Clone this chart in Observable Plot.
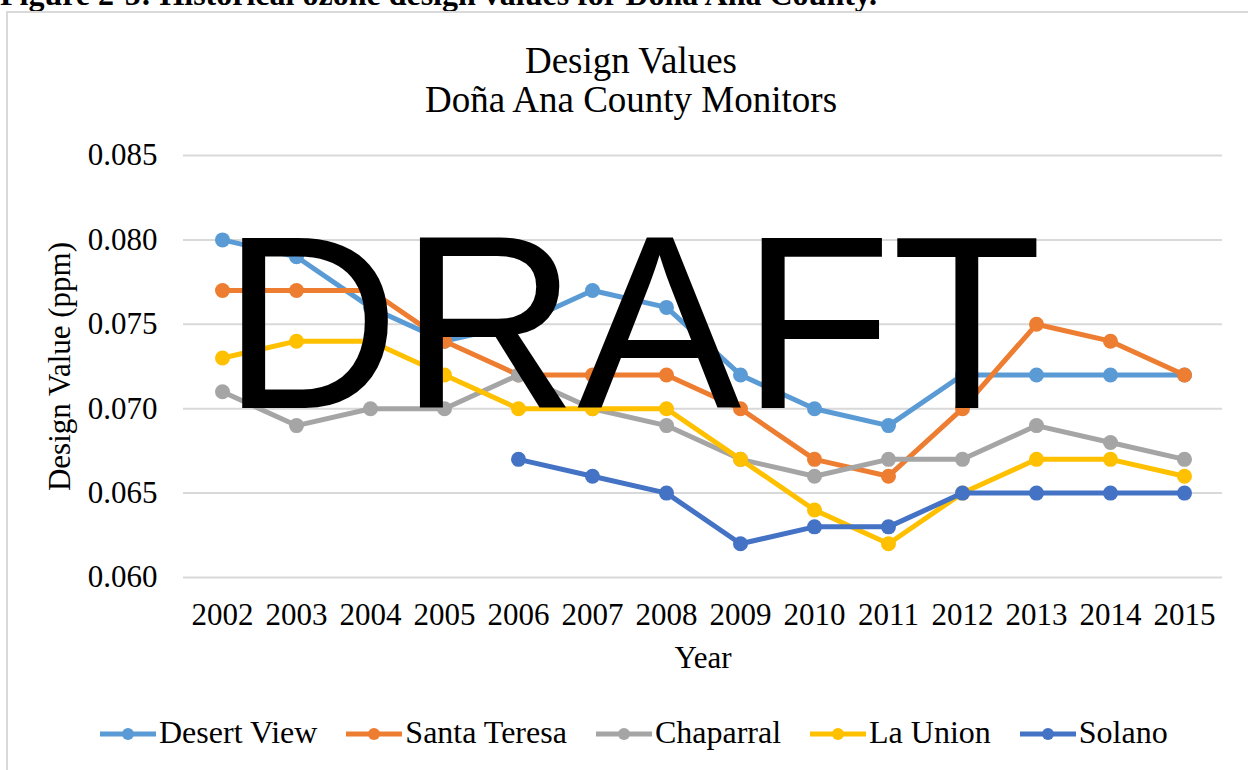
<!DOCTYPE html>
<html>
<head>
<meta charset="utf-8">
<script src="https://cdn.jsdelivr.net/npm/d3@7"></script>
<script src="https://cdn.jsdelivr.net/npm/@observablehq/plot@0.6"></script>
<style>
  html, body { margin: 0; padding: 0; background: #fff; }
  body { width: 1248px; height: 770px; overflow: hidden; position: relative; font-family: "Liberation Serif", "Times New Roman", serif; }
  #caption { position: absolute; left: 0; top: -22px; font-weight: bold; font-size: 32px; line-height: 32px; white-space: nowrap; color: #000; }
  #frame { position: absolute; left: 6px; top: 11px; width: 1270px; height: 800px; border: 2px solid #d9d9d9; box-sizing: border-box; }
  #title { position: absolute; left: 0; width: 1262px; top: 41px; text-align: center; font-size: 37px; line-height: 39px; color: #000; }
  #chart { position: absolute; left: 0; top: 120px; }
  #legend { position: absolute; left: 100px; top: 716px; display: flex; gap: 29px; white-space: nowrap; font-size: 32px; line-height: 32px; color: #000; }
  .item { display: flex; align-items: flex-start; }
  .item svg { display: block; margin-right: 3px; }
  #draft { position: absolute; left: 222px; top: 200px; font-family: "Liberation Sans", Arial, sans-serif; font-size: 246px; line-height: 246px; color: #000; white-space: nowrap; pointer-events: none; }
</style>
</head>
<body>
<div id="caption">Figure 2-5: Historical ozone design values for Doña Ana County.</div>
<div id="frame"></div>
<div id="title">Design Values<br>Doña Ana County Monitors</div>
<div id="chart"></div>
<div id="legend"></div>
<div id="draft">DRAFT</div>
<script>
const years = [2002, 2003, 2004, 2005, 2006, 2007, 2008, 2009, 2010, 2011, 2012, 2013, 2014, 2015];
const seriesNames = ["Desert View", "Santa Teresa", "Chaparral", "La Union", "Solano"];
const desertView  = [0.080, 0.079, 0.076, 0.074, 0.075, 0.077, 0.076, 0.072, 0.070, 0.069, 0.072, 0.072, 0.072, 0.072];
const santaTeresa = [0.077, 0.077, 0.077, 0.074, 0.072, 0.072, 0.072, 0.070, 0.067, 0.066, 0.070, 0.075, 0.074, 0.072];
const chaparral   = [0.071, 0.069, 0.070, 0.070, 0.072, 0.070, 0.069, 0.067, 0.066, 0.067, 0.067, 0.069, 0.068, 0.067];
const laUnion     = [0.073, 0.074, 0.074, 0.072, 0.070, 0.070, 0.070, 0.067, 0.064, 0.062, 0.065, 0.067, 0.067, 0.066];
const solano      = [null, null, null, null, 0.067, 0.066, 0.065, 0.062, 0.063, 0.063, 0.065, 0.065, 0.065, 0.065];
const yTicks = [0.060, 0.065, 0.070, 0.075, 0.080, 0.085];
const colors = ["#5B9BD5", "#ED7D31", "#A5A5A5", "#FFC000", "#4472C4"];

const seriesValues = [desertView, santaTeresa, chaparral, laUnion, solano];
const rowsBySeries = seriesValues.map((vals, i) =>
  years.map((year, j) => ({year, value: vals[j], series: seriesNames[i]})).filter(d => d.value != null)
);

const seriesMarks = [];
rowsBySeries.forEach((rows, i) => {
  seriesMarks.push(Plot.line(rows, {x: "year", y: "value", stroke: colors[i], strokeWidth: 5, strokeLinejoin: "round", strokeLinecap: "round"}));
  seriesMarks.push(Plot.dot(rows, {x: "year", y: "value", fill: colors[i], r: 7.5, stroke: "none"}));
});

const chart = Plot.plot({
  width: 1248,
  height: 560,
  marginTop: 35,
  marginBottom: 103,
  marginLeft: 183,
  marginRight: 26,
  style: {fontFamily: '"Liberation Serif", "Times New Roman", serif', fontSize: "31px", color: "#000", background: "transparent", overflow: "visible"},
  x: {type: "point", domain: years, padding: 0.5},
  y: {domain: [0.060, 0.085]},
  marks: [
    Plot.gridY(yTicks, {stroke: "#d9d9d9", strokeOpacity: 1, strokeWidth: 2}),
    Plot.axisY(yTicks, {tickSize: 0, tickPadding: 26, tickFormat: d => d.toFixed(3), label: null, fontSize: 31}),
    Plot.axisX(years, {tickSize: 0, tickPadding: 25, tickFormat: d => String(d), label: null, fontSize: 31}),
    ...seriesMarks,
    Plot.text(["Year"], {text: d => d, frameAnchor: "bottom", dy: 81, lineAnchor: "middle", textAnchor: "middle", fontSize: 31, fill: "#000"}),
    Plot.text(["Design Value (ppm)"], {text: d => d, frameAnchor: "left", dx: -123, rotate: -90, lineAnchor: "middle", textAnchor: "middle", fontSize: 31, fill: "#000"})
  ]
});
document.getElementById("chart").appendChild(chart);

const legend = document.getElementById("legend");
seriesNames.forEach((name, i) => {
  const item = document.createElement("div");
  item.className = "item";
  const ns = "http://www.w3.org/2000/svg";
  const svg = document.createElementNS(ns, "svg");
  svg.setAttribute("width", "56");
  svg.setAttribute("height", "32");
  const line = document.createElementNS(ns, "line");
  line.setAttribute("x1", "0"); line.setAttribute("x2", "56");
  line.setAttribute("y1", "18"); line.setAttribute("y2", "18");
  line.setAttribute("stroke", colors[i]); line.setAttribute("stroke-width", "5");
  const c = document.createElementNS(ns, "circle");
  c.setAttribute("cx", "28"); c.setAttribute("cy", "18"); c.setAttribute("r", "6");
  c.setAttribute("fill", colors[i]);
  svg.appendChild(line); svg.appendChild(c);
  const span = document.createElement("span");
  span.textContent = name;
  item.appendChild(svg); item.appendChild(span);
  legend.appendChild(item);
});
</script>
</body>
</html>
